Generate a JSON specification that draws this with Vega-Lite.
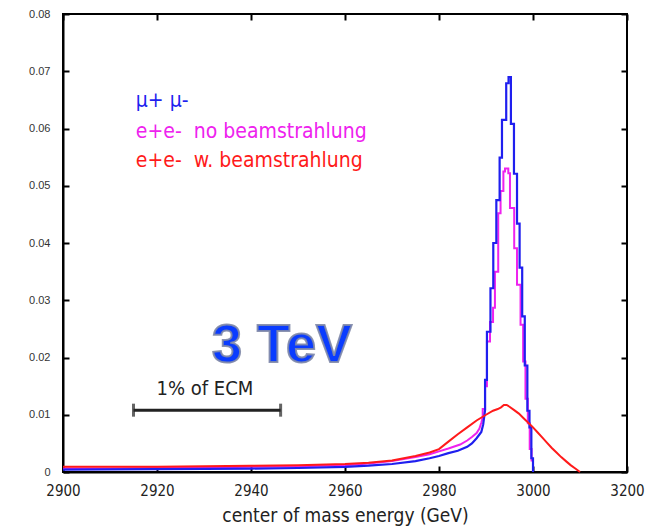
{
  "$schema": "https://vega.github.io/schema/vega-lite/v6.json",
  "width": 564,
  "height": 458,
  "autosize": {"type": "none"},
  "padding": {"left": 63, "top": 14, "right": 20, "bottom": 60},
  "background": "white",
  "config": {"view": {"stroke": "#000", "strokeWidth": 2}, "axis": {"grid": false}},
  "datasets": {
    "curves": [
      {"s": "ee0", "i": 0, "E": 2900, "v": 0.0006}, {"s": "ee0", "i": 1, "E": 2910, "v": 0.0006}, {"s": "ee0", "i": 2, "E": 2920, "v": 0.0007}, {"s": "ee0", "i": 3, "E": 2930, "v": 0.0008}, {"s": "ee0", "i": 4, "E": 2940, "v": 0.0009}, {"s": "ee0", "i": 5, "E": 2950, "v": 0.0010}, {"s": "ee0", "i": 6, "E": 2960, "v": 0.0012}, {"s": "ee0", "i": 7, "E": 2965, "v": 0.0015}, {"s": "ee0", "i": 8, "E": 2970, "v": 0.0019}, {"s": "ee0", "i": 9, "E": 2975, "v": 0.0026}, {"s": "ee0", "i": 10, "E": 2978, "v": 0.0031}, {"s": "ee0", "i": 11, "E": 2980, "v": 0.0036}, {"s": "ee0", "i": 12, "E": 2982, "v": 0.0041}, {"s": "ee0", "i": 13, "E": 2984.5, "v": 0.0048}, {"s": "ee0", "i": 14, "E": 2986, "v": 0.0055}, {"s": "ee0", "i": 15, "E": 2987, "v": 0.0061}, {"s": "ee0", "i": 16, "E": 2988, "v": 0.0068}, {"s": "ee0", "i": 17, "E": 2988.6, "v": 0.0076}, {"s": "ee0", "i": 18, "E": 2989.0, "v": 0.0086}, {"s": "ee0", "i": 19, "E": 2989.3, "v": 0.0095},
      {"s": "ee0", "i": 20, "E": 2989.3, "v": 0.0110}, {"s": "ee0", "i": 21, "E": 2989.8, "v": 0.0110}, {"s": "ee0", "i": 22, "E": 2989.8, "v": 0.0150}, {"s": "ee0", "i": 23, "E": 2990.2, "v": 0.0150}, {"s": "ee0", "i": 24, "E": 2990.2, "v": 0.0228}, {"s": "ee0", "i": 25, "E": 2990.85, "v": 0.0228}, {"s": "ee0", "i": 26, "E": 2990.85, "v": 0.0262}, {"s": "ee0", "i": 27, "E": 2991.5, "v": 0.0262}, {"s": "ee0", "i": 28, "E": 2991.5, "v": 0.0287}, {"s": "ee0", "i": 29, "E": 2991.9, "v": 0.0287}, {"s": "ee0", "i": 30, "E": 2991.9, "v": 0.0350}, {"s": "ee0", "i": 31, "E": 2992.6, "v": 0.0350}, {"s": "ee0", "i": 32, "E": 2992.6, "v": 0.0452}, {"s": "ee0", "i": 33, "E": 2993.1, "v": 0.0452}, {"s": "ee0", "i": 34, "E": 2993.1, "v": 0.0491}, {"s": "ee0", "i": 35, "E": 2993.7, "v": 0.0491}, {"s": "ee0", "i": 36, "E": 2993.7, "v": 0.0525}, {"s": "ee0", "i": 37, "E": 2994.05, "v": 0.0525}, {"s": "ee0", "i": 38, "E": 2994.05, "v": 0.0530}, {"s": "ee0", "i": 39, "E": 2994.75, "v": 0.0530}, {"s": "ee0", "i": 40, "E": 2994.75, "v": 0.0522}, {"s": "ee0", "i": 41, "E": 2995.1, "v": 0.0522}, {"s": "ee0", "i": 42, "E": 2995.1, "v": 0.0461}, {"s": "ee0", "i": 43, "E": 2996.0, "v": 0.0461}, {"s": "ee0", "i": 44, "E": 2996.0, "v": 0.0391}, {"s": "ee0", "i": 45, "E": 2996.6, "v": 0.0391}, {"s": "ee0", "i": 46, "E": 2996.6, "v": 0.0327}, {"s": "ee0", "i": 47, "E": 2997.35, "v": 0.0327}, {"s": "ee0", "i": 48, "E": 2997.35, "v": 0.0257}, {"s": "ee0", "i": 49, "E": 2997.9, "v": 0.0257}, {"s": "ee0", "i": 50, "E": 2997.9, "v": 0.0193}, {"s": "ee0", "i": 51, "E": 2998.4, "v": 0.0193}, {"s": "ee0", "i": 52, "E": 2998.4, "v": 0.0128}, {"s": "ee0", "i": 53, "E": 2998.9, "v": 0.0128}, {"s": "ee0", "i": 54, "E": 2998.9, "v": 0.0085}, {"s": "ee0", "i": 55, "E": 2999.3, "v": 0.0085}, {"s": "ee0", "i": 56, "E": 2999.3, "v": 0.0040}, {"s": "ee0", "i": 57, "E": 2999.7, "v": 0.0040}, {"s": "ee0", "i": 58, "E": 2999.7, "v": 0.0020}, {"s": "ee0", "i": 59, "E": 3000, "v": 0.0020}, {"s": "ee0", "i": 60, "E": 3000, "v": 0},

      {"s": "mu", "i": 0, "E": 2900, "v": 0.0004}, {"s": "mu", "i": 1, "E": 2910, "v": 0.00045}, {"s": "mu", "i": 2, "E": 2920, "v": 0.0005}, {"s": "mu", "i": 3, "E": 2930, "v": 0.00055}, {"s": "mu", "i": 4, "E": 2940, "v": 0.0006}, {"s": "mu", "i": 5, "E": 2950, "v": 0.0007}, {"s": "mu", "i": 6, "E": 2960, "v": 0.0009}, {"s": "mu", "i": 7, "E": 2965, "v": 0.0011}, {"s": "mu", "i": 8, "E": 2970, "v": 0.0014}, {"s": "mu", "i": 9, "E": 2975, "v": 0.0019}, {"s": "mu", "i": 10, "E": 2978, "v": 0.0024}, {"s": "mu", "i": 11, "E": 2980, "v": 0.0028}, {"s": "mu", "i": 12, "E": 2982, "v": 0.0033}, {"s": "mu", "i": 13, "E": 2984, "v": 0.0037}, {"s": "mu", "i": 14, "E": 2986, "v": 0.0044}, {"s": "mu", "i": 15, "E": 2987, "v": 0.0050}, {"s": "mu", "i": 16, "E": 2988, "v": 0.0059}, {"s": "mu", "i": 17, "E": 2989, "v": 0.0070}, {"s": "mu", "i": 18, "E": 2989.4, "v": 0.0083}, {"s": "mu", "i": 19, "E": 2989.8, "v": 0.0108},
      {"s": "mu", "i": 20, "E": 2989.8, "v": 0.0161}, {"s": "mu", "i": 21, "E": 2990.2, "v": 0.0161}, {"s": "mu", "i": 22, "E": 2990.2, "v": 0.0245}, {"s": "mu", "i": 23, "E": 2990.95, "v": 0.0245}, {"s": "mu", "i": 24, "E": 2990.95, "v": 0.0321}, {"s": "mu", "i": 25, "E": 2991.55, "v": 0.0321}, {"s": "mu", "i": 26, "E": 2991.55, "v": 0.0400}, {"s": "mu", "i": 27, "E": 2992.2, "v": 0.0400}, {"s": "mu", "i": 28, "E": 2992.2, "v": 0.0475}, {"s": "mu", "i": 29, "E": 2992.9, "v": 0.0475}, {"s": "mu", "i": 30, "E": 2992.9, "v": 0.0549}, {"s": "mu", "i": 31, "E": 2993.4, "v": 0.0549}, {"s": "mu", "i": 32, "E": 2993.4, "v": 0.0615}, {"s": "mu", "i": 33, "E": 2994.3, "v": 0.0615}, {"s": "mu", "i": 34, "E": 2994.3, "v": 0.0679}, {"s": "mu", "i": 35, "E": 2994.8, "v": 0.0679}, {"s": "mu", "i": 36, "E": 2994.8, "v": 0.0690}, {"s": "mu", "i": 37, "E": 2995.3, "v": 0.0690}, {"s": "mu", "i": 38, "E": 2995.3, "v": 0.0608}, {"s": "mu", "i": 39, "E": 2995.95, "v": 0.0608}, {"s": "mu", "i": 40, "E": 2995.95, "v": 0.0521}, {"s": "mu", "i": 41, "E": 2996.6, "v": 0.0521}, {"s": "mu", "i": 42, "E": 2996.6, "v": 0.0434}, {"s": "mu", "i": 43, "E": 2997.15, "v": 0.0434}, {"s": "mu", "i": 44, "E": 2997.15, "v": 0.0357}, {"s": "mu", "i": 45, "E": 2997.7, "v": 0.0357}, {"s": "mu", "i": 46, "E": 2997.7, "v": 0.0272}, {"s": "mu", "i": 47, "E": 2998.25, "v": 0.0272}, {"s": "mu", "i": 48, "E": 2998.25, "v": 0.0186}, {"s": "mu", "i": 49, "E": 2998.8, "v": 0.0186}, {"s": "mu", "i": 50, "E": 2998.8, "v": 0.0107}, {"s": "mu", "i": 51, "E": 2999.25, "v": 0.0107}, {"s": "mu", "i": 52, "E": 2999.25, "v": 0.0078}, {"s": "mu", "i": 53, "E": 2999.65, "v": 0.0078}, {"s": "mu", "i": 54, "E": 2999.65, "v": 0.0024}, {"s": "mu", "i": 55, "E": 3000, "v": 0.0024}, {"s": "mu", "i": 56, "E": 3000, "v": 0},

      {"s": "ee1", "i": 0, "E": 2900, "v": 0.0009}, {"s": "ee1", "i": 1, "E": 2910, "v": 0.0009}, {"s": "ee1", "i": 2, "E": 2920, "v": 0.0009}, {"s": "ee1", "i": 3, "E": 2930, "v": 0.0010}, {"s": "ee1", "i": 4, "E": 2940, "v": 0.0011}, {"s": "ee1", "i": 5, "E": 2950, "v": 0.0012}, {"s": "ee1", "i": 6, "E": 2960, "v": 0.0014}, {"s": "ee1", "i": 7, "E": 2965, "v": 0.0016}, {"s": "ee1", "i": 8, "E": 2970, "v": 0.0020}, {"s": "ee1", "i": 9, "E": 2975, "v": 0.0028}, {"s": "ee1", "i": 10, "E": 2978, "v": 0.0034}, {"s": "ee1", "i": 11, "E": 2980, "v": 0.0040}, {"s": "ee1", "i": 12, "E": 2982, "v": 0.0053}, {"s": "ee1", "i": 13, "E": 2984, "v": 0.0066}, {"s": "ee1", "i": 14, "E": 2986, "v": 0.0078}, {"s": "ee1", "i": 15, "E": 2988, "v": 0.0090}, {"s": "ee1", "i": 16, "E": 2990, "v": 0.0100}, {"s": "ee1", "i": 17, "E": 2991.5, "v": 0.0107}, {"s": "ee1", "i": 18, "E": 2992.5, "v": 0.0110}, {"s": "ee1", "i": 19, "E": 2993.2, "v": 0.0113}, {"s": "ee1", "i": 20, "E": 2993.8, "v": 0.0117}, {"s": "ee1", "i": 21, "E": 2994.4, "v": 0.0117}, {"s": "ee1", "i": 22, "E": 2995, "v": 0.0114}, {"s": "ee1", "i": 23, "E": 2996, "v": 0.0108}, {"s": "ee1", "i": 24, "E": 2997, "v": 0.0102}, {"s": "ee1", "i": 25, "E": 2998, "v": 0.0094}, {"s": "ee1", "i": 26, "E": 2999, "v": 0.0086}, {"s": "ee1", "i": 27, "E": 3000, "v": 0.0078}, {"s": "ee1", "i": 28, "E": 3001, "v": 0.0069}, {"s": "ee1", "i": 29, "E": 3002, "v": 0.0060}, {"s": "ee1", "i": 30, "E": 3003, "v": 0.0051}, {"s": "ee1", "i": 31, "E": 3004, "v": 0.0042}, {"s": "ee1", "i": 32, "E": 3005, "v": 0.0034}, {"s": "ee1", "i": 33, "E": 3006, "v": 0.0026}, {"s": "ee1", "i": 34, "E": 3007, "v": 0.0019}, {"s": "ee1", "i": 35, "E": 3008, "v": 0.0012}, {"s": "ee1", "i": 36, "E": 3009, "v": 0.0006}, {"s": "ee1", "i": 37, "E": 3010, "v": 0}
    ],
    "legend": [
      {"s": "mu", "t": "μ+ μ-", "E": 2915.5, "v": 0.0638},
      {"s": "ee0", "t": "e+e-\u00a0 no beamstrahlung", "E": 2915.5, "v": 0.0583},
      {"s": "ee1", "t": "e+e-\u00a0 w. beamstrahlung", "E": 2915.5, "v": 0.0533}
    ],
    "bar": [{"E1": 2915, "E2": 2946.3, "v": 0.0108}],
    "caps": [{"E": 2915, "v": 0.0108}, {"E": 2946.3, "v": 0.0108}]
  },
  "layer": [
    {
      "data": {"name": "curves"},
      "transform": [{"filter": "datum.s == 'ee0'"}],
      "mark": {"type": "line", "color": "#ee22ee", "strokeWidth": 2},
      "encoding": {
        "x": {"field": "E", "type": "quantitative", "scale": {"domain": [2900, 3020], "nice": false, "zero": false},
          "axis": {"orient": "bottom", "values": [2900, 2920, 2940, 2960, 2980, 3000, 3020], "format": "d", "labelExpr": "datum.value == 3020 ? '3200' : datum.label", "tickSize": -6, "tickWidth": 2, "tickColor": "#000", "domainColor": "#000", "domainWidth": 2, "labelPadding": 17, "labelFont": "DejaVu Sans Condensed, DejaVu Sans", "labelFontSize": 15, "labelColor": "#222", "labelFlush": false, "labelOverlap": false, "title": "center of mass energy (GeV)", "titleFont": "DejaVu Sans Condensed, DejaVu Sans", "titleFontSize": 19, "titleFontWeight": "normal", "titleColor": "#222", "titlePadding": 8}},
        "y": {"field": "v", "type": "quantitative", "scale": {"domain": [0, 0.08], "nice": false},
          "axis": {"orient": "left", "values": [0, 0.01, 0.02, 0.03, 0.04, 0.05, 0.06, 0.07, 0.08], "labelExpr": "datum.value == 0 ? '0' : format(datum.value, '.2f')", "tickSize": -6, "tickWidth": 2, "tickColor": "#000", "domainColor": "#000", "domainWidth": 2, "labelPadding": 19, "labelFont": "Liberation Sans", "labelFontSize": 11, "labelColor": "#333", "labelOverlap": false, "title": null}},
        "order": {"field": "i", "type": "quantitative"}
      }
    },
    {
      "data": {"name": "curves"},
      "transform": [{"filter": "datum.s == 'mu'"}],
      "mark": {"type": "line", "color": "#1f1fef", "strokeWidth": 2.2},
      "encoding": {
        "x": {"field": "E", "type": "quantitative", "scale": {"domain": [2900, 3020], "nice": false, "zero": false},
          "axis": {"orient": "top", "values": [2900, 2920, 2940, 2960, 2980, 3000, 3020], "labels": false, "domain": false, "tickSize": -6, "tickWidth": 2, "tickColor": "#000", "title": null}},
        "y": {"field": "v", "type": "quantitative", "scale": {"domain": [0, 0.08], "nice": false},
          "axis": {"orient": "right", "values": [0, 0.01, 0.02, 0.03, 0.04, 0.05, 0.06, 0.07, 0.08], "labels": false, "domain": false, "tickSize": -6, "tickWidth": 2, "tickColor": "#000", "title": null}},
        "order": {"field": "i", "type": "quantitative"}
      }
    },
    {
      "data": {"name": "curves"},
      "transform": [{"filter": "datum.s == 'ee1'"}],
      "mark": {"type": "line", "color": "#ff1a1a", "strokeWidth": 2},
      "encoding": {
        "x": {"field": "E", "type": "quantitative", "scale": {"domain": [2900, 3020], "nice": false, "zero": false}, "axis": null},
        "y": {"field": "v", "type": "quantitative", "scale": {"domain": [0, 0.08], "nice": false}, "axis": null},
        "order": {"field": "i", "type": "quantitative"}
      }
    },
    {
      "data": {"name": "legend"},
      "mark": {"type": "text", "align": "left", "baseline": "alphabetic", "font": "DejaVu Sans Condensed, DejaVu Sans", "fontSize": 21},
      "encoding": {
        "x": {"field": "E", "type": "quantitative", "scale": {"domain": [2900, 3020], "nice": false, "zero": false}, "axis": null},
        "y": {"field": "v", "type": "quantitative", "scale": {"domain": [0, 0.08], "nice": false}, "axis": null},
        "text": {"field": "t"},
        "color": {"field": "s", "type": "nominal", "scale": {"domain": ["mu", "ee0", "ee1"], "range": ["#1f1fef", "#ee22ee", "#ff1a1a"]}, "legend": null}
      }
    },
    {
      "data": {"values": [{"t": "3 TeV", "E": 2946.6, "v": 0.0192}]},
      "mark": {"type": "text", "align": "center", "baseline": "alphabetic", "font": "Liberation Sans", "fontWeight": "bold", "fontSize": 54, "color": "#0a3cff", "stroke": "#7f88a8", "strokeWidth": 2, "strokeOpacity": 0.9},
      "encoding": {
        "x": {"field": "E", "type": "quantitative", "scale": {"domain": [2900, 3020], "nice": false, "zero": false}, "axis": null},
        "y": {"field": "v", "type": "quantitative", "scale": {"domain": [0, 0.08], "nice": false}, "axis": null},
        "text": {"field": "t"}
      }
    },
    {
      "data": {"values": [{"t": "1% of ECM", "E": 2930.2, "v": 0.01345}]},
      "mark": {"type": "text", "align": "center", "baseline": "alphabetic", "font": "DejaVu Sans Condensed, DejaVu Sans", "fontSize": 20, "color": "#222"},
      "encoding": {
        "x": {"field": "E", "type": "quantitative", "scale": {"domain": [2900, 3020], "nice": false, "zero": false}, "axis": null},
        "y": {"field": "v", "type": "quantitative", "scale": {"domain": [0, 0.08], "nice": false}, "axis": null},
        "text": {"field": "t"}
      }
    },
    {
      "data": {"name": "bar"},
      "mark": {"type": "rule", "color": "#222", "strokeWidth": 3},
      "encoding": {
        "x": {"field": "E1", "type": "quantitative", "scale": {"domain": [2900, 3020], "nice": false, "zero": false}, "axis": null},
        "x2": {"field": "E2"},
        "y": {"field": "v", "type": "quantitative", "scale": {"domain": [0, 0.08], "nice": false}, "axis": null}
      }
    },
    {
      "data": {"name": "caps"},
      "mark": {"type": "tick", "orient": "vertical", "color": "#222", "size": 13, "thickness": 3},
      "encoding": {
        "x": {"field": "E", "type": "quantitative", "scale": {"domain": [2900, 3020], "nice": false, "zero": false}, "axis": null},
        "y": {"field": "v", "type": "quantitative", "scale": {"domain": [0, 0.08], "nice": false}, "axis": null}
      }
    }
  ],
  "resolve": {"axis": {"x": "independent", "y": "independent"}}
}
